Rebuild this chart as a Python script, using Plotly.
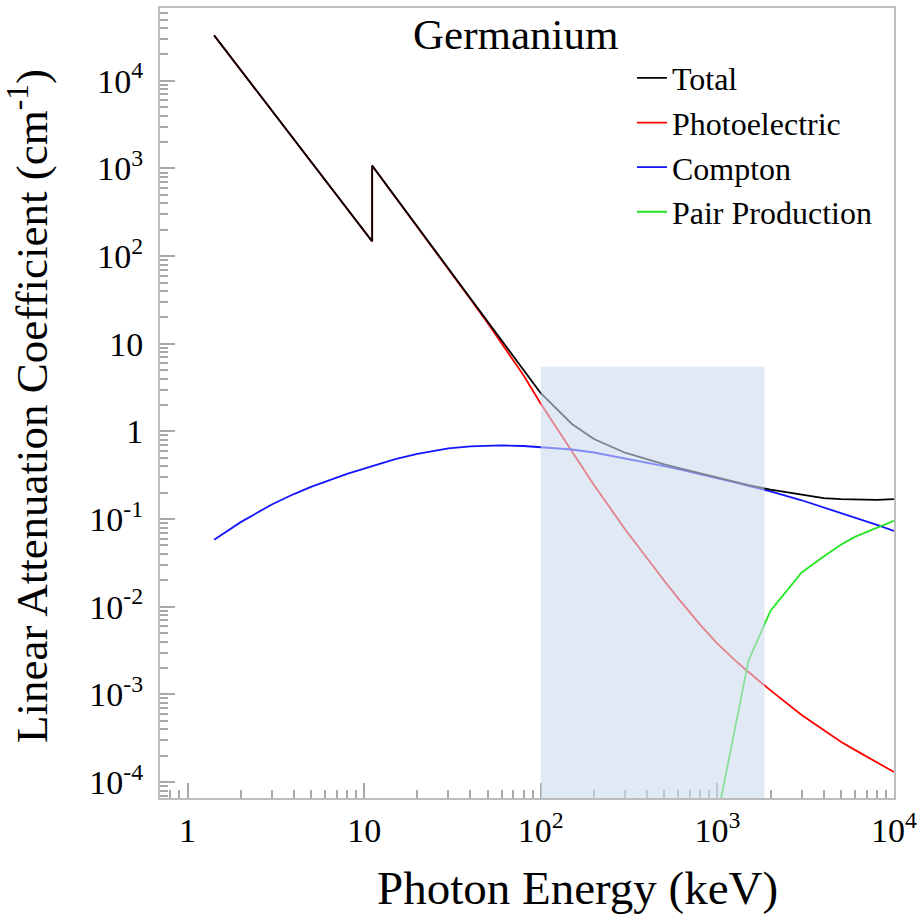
import plotly.graph_objects as go

# ---- data (linear attenuation coefficient of germanium, cm^-1) ----
energy_pe = [1.4143, 1.5, 2, 3, 4, 5, 6, 8, 10, 11.1, 11.1, 15, 20, 30, 40, 50, 60, 80, 100,
             150, 200, 300, 400, 500, 600, 800, 1000, 1250, 1500, 2000, 3000, 4000, 5000,
             6000, 8000, 10000]
photoelectric = [33000, 28270, 13270, 4574, 2148, 1195, 740.5, 347.8, 193.4, 147, 1077,
                 474.5, 216.4, 71.4, 32.2, 17.3, 10.2, 4.34, 2.07,
                 0.594, 0.2455, 0.0767, 0.0356, 0.0198, 0.01247, 0.0062, 0.0038,
                 0.00248, 0.0018, 0.00111, 5.82e-4, 3.89e-4, 2.88e-4, 2.33e-4, 1.66e-4, 1.30e-4]
total = [33000, 28270, 13270, 4574, 2148, 1195, 740.8, 348.1, 193.8, 147.4, 1077.4,
         475.0, 217.0, 72.0, 32.9, 18.0, 10.9, 5.02, 2.73,
         1.216, 0.8205, 0.5717, 0.4776, 0.4218, 0.3835, 0.3322, 0.2968,
         0.2659, 0.2442, 0.2171, 0.1892, 0.1739, 0.1693, 0.1669, 0.1657, 0.1690]

energy_compton = [1.4143, 1.5, 2, 3, 4, 5, 6, 8, 10, 11.1, 15, 20, 30, 40, 50, 60, 80, 100,
                  150, 200, 300, 400, 500, 600, 800, 1000, 1250, 1500, 2000, 3000, 4000,
                  5000, 6000, 8000, 10000]
compton = [0.058, 0.063, 0.0923, 0.147, 0.193, 0.233, 0.268, 0.328, 0.377, 0.401,
           0.484, 0.556, 0.640, 0.676, 0.692, 0.693, 0.682, 0.664,
           0.622, 0.575, 0.495, 0.442, 0.402, 0.371, 0.326, 0.293,
           0.263, 0.240, 0.207, 0.164, 0.136, 0.118, 0.104, 0.086, 0.0734]

energy_pair = [1022, 1500, 2000, 3000, 4000, 5000, 6000, 8000, 10000]
pair = [5e-5, 0.00243, 0.00902, 0.0246, 0.0375, 0.051, 0.0627, 0.0795, 0.0955]

# highlighted energy band (keV) and its upper value (cm^-1)
band_energy = [100, 1850]
band_top = 5.5

x_tickvals = [1, 10, 100, 1000, 10000]
x_ticktext = ["1", "10", "10<sup>2</sup>", "10<sup>3</sup>", "10<sup>4</sup>"]
y_tickvals = [1e-4, 1e-3, 1e-2, 1e-1, 1, 10, 100, 1000, 10000]
y_ticktext = ["10<sup>-4</sup>", "10<sup>-3</sup>", "10<sup>-2</sup>", "10<sup>-1</sup>",
              "1", "10", "10<sup>2</sup>", "10<sup>3</sup>", "10<sup>4</sup>"]

FONT = "Liberation Serif, Times New Roman, serif"

fig = go.Figure()
fig.add_trace(go.Scatter(x=energy_pe, y=photoelectric, mode="lines", name="Photoelectric",
                         line=dict(color="#ff0000", width=1.8), legendrank=2))
fig.add_trace(go.Scatter(x=energy_compton, y=compton, mode="lines", name="Compton",
                         line=dict(color="#1414ff", width=1.8), legendrank=3))
fig.add_trace(go.Scatter(x=energy_pair, y=pair, mode="lines", name="Pair Production",
                         line=dict(color="#22e622", width=1.8), legendrank=4))
fig.add_trace(go.Scatter(x=energy_pe, y=total, mode="lines", name="Total",
                         line=dict(color="#000000", width=1.8), legendrank=1))

fig.add_shape(type="rect", xref="x", yref="y",
              x0=band_energy[0], x1=band_energy[1], y0=1e-6, y1=band_top,
              fillcolor="rgb(205,218,238)", opacity=0.6, line=dict(width=0), layer="above")

axis_common = dict(
    type="log", showgrid=False, zeroline=False,
    showline=True, linecolor="#bdbdbd", linewidth=2, mirror=True,
    ticks="inside", ticklen=15, tickwidth=1.5, tickcolor="#a8a8a8",
    tickfont=dict(family=FONT, size=34, color="black"),
    tickmode="array",
    minor=dict(ticks="inside", ticklen=8, tickwidth=1.5, tickcolor="#a8a8a8", dtick="D1",
               showgrid=False),
)

fig.update_xaxes(**axis_common, range=[-0.156, 4.0], tickvals=x_tickvals,
                 ticktext=x_ticktext, ticklabelstandoff=1)
fig.update_yaxes(**axis_common, range=[-4.182, 4.831], tickvals=y_tickvals,
                 ticktext=y_ticktext, ticklabelstandoff=8)

fig.add_annotation(text="Germanium", xref="paper", yref="paper", x=0.484, y=0.967,
                   xanchor="center", yanchor="middle", showarrow=False,
                   font=dict(family=FONT, size=43, color="black"))
fig.add_annotation(text="Photon Energy (keV)", xref="paper", yref="paper", x=0.569, y=-0.114,
                   xanchor="center", yanchor="middle", showarrow=False,
                   font=dict(family=FONT, size=47, color="black"))
fig.add_annotation(text="Linear Attenuation Coefficient (cm<sup>-1</sup>)", xref="paper",
                   yref="paper", x=-0.180, y=0.496, textangle=-90,
                   xanchor="center", yanchor="middle", showarrow=False,
                   font=dict(family=FONT, size=45, color="black"))

fig.update_layout(
    width=923, height=914,
    margin=dict(l=160, r=25, t=6, b=116),
    paper_bgcolor="white", plot_bgcolor="white",
    font=dict(family=FONT, color="black"),
    showlegend=True,
    legend=dict(x=0.643, y=0.946, xanchor="left", yanchor="top",
                bgcolor="rgba(0,0,0,0)", font=dict(family=FONT, size=32, color="black"),
                itemwidth=30, tracegroupgap=0),
)

fig.write_html("out.html", config={"displayModeBar": False},
               post_script="document.body.style.margin='0px';")
